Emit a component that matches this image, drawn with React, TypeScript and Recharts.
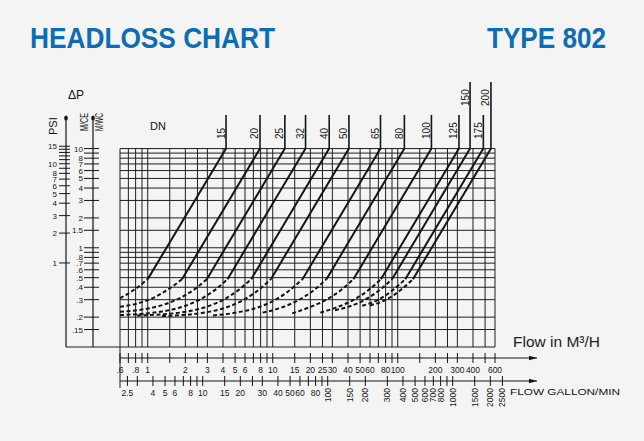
import React from "react";
import { LineChart, Line, XAxis, YAxis, ReferenceLine, Customized } from "recharts";

const INK = "#141414";
const GRID = "#1e1e1e";
const BLUE = "#0b6db7";
const FONT = "'Liberation Sans', Arial, Helvetica, sans-serif";

// ---------- axes ----------
const FLOW_DOMAIN = [0.6, 1300.6]; // m3/h (grid ends at 600, axis arrow beyond)
const GPM_PER_M3H = 2.18 / 0.6; // spacing of the printed gallon/min scale
const HEAD_DOMAIN = [0.1, 20.8]; // M/CE
const PSI_PER_M = 1.4223;
const PSI_DOMAIN = [HEAD_DOMAIN[0] * PSI_PER_M, HEAD_DOMAIN[1] * PSI_PER_M];

const flowTicks = [0.6, 0.7, 0.8, 0.9, 1, 1.5, 2, 2.5, 3, 4, 5, 6, 7, 8, 9, 10, 15, 20, 25, 30, 40, 50, 60, 70, 80, 90, 100, 150, 200, 250, 300, 400, 500, 600];
const flowLabelValues = [0.6, 0.8, 1, 2, 3, 4, 5, 6, 8, 10, 15, 20, 25, 30, 40, 50, 60, 80, 100, 200, 300, 400, 600];
const flowLabelTexts = [".6", ".8", "1", "2", "3", "4", "5", "6", "8", "10", "15", "20", "25", "30", "40", "50", "60", "80", "100", "200", "300", "400", "600"];

const gpmTicks = [2.5, 3, 4, 5, 6, 7, 8, 9, 10, 15, 20, 25, 30, 40, 50, 60, 70, 80, 90, 100, 150, 200, 300, 400, 500, 600, 700, 800, 900, 1000, 1500, 2000, 2500];
const gpmFlatLabels = [2.5, 4, 5, 6, 8, 10, 15, 20, 30, 40, 50, 60, 80];
const gpmUpLabels = [100, 150, 200, 300, 400, 500, 600, 700, 800, 1000, 1500, 2000, 2500];

const headTicks = [10, 9, 8, 7, 6, 5, 4, 3, 2, 1.5, 1, 0.9, 0.8, 0.7, 0.6, 0.5, 0.4, 0.3, 0.2, 0.15];
const headLabelValues = [10, 8, 7, 6, 5, 4, 3, 2, 1.5, 1, 0.8, 0.7, 0.6, 0.5, 0.4, 0.3, 0.2, 0.15];
const headLabelTexts = ["10", "8", "7", "6", "5", "4", "3", "2", "1.5", "1", ".8", ".7", ".6", ".5", ".4", ".3", ".2", ".15"];

const psiTicks = [15, 14, 13, 12, 11, 10, 9, 8, 7, 6, 5, 4, 3, 2, 1];
const psiLabelValues = [15, 10, 8, 7, 6, 5, 4, 3, 2, 1];

const gridFlow = flowTicks;
const gridHead = [10, 9, 8, 7, 6, 5, 4, 3, 2, 1.5, 1, 0.9, 0.8, 0.7, 0.6, 0.5, 0.4, 0.3, 0.2, 0.15, 0.1];

// ---------- DN curves: [flow m3/h, head M/CE] ----------
const dnNames = ["15", "20", "25", "32", "40", "50", "65", "80", "100", "125", "150", "175", "200"];
const dnTallStem = ["150", "200"];

const dn15Solid = [[1.0, 0.483], [4.23, 10]];
const dn15Dash = [[0.6, 0.31], [0.8, 0.386], [1.0, 0.483]];
const dn20Solid = [[1.88, 0.483], [7.91, 10]];
const dn20Dash = [[0.6, 0.254], [0.85, 0.277], [1.13, 0.317], [1.5, 0.39], [1.88, 0.483]];
const dn25Solid = [[2.97, 0.483], [12.5, 10]];
const dn25Dash = [[0.6, 0.226], [0.89, 0.238], [1.34, 0.267], [1.78, 0.308], [2.38, 0.383], [2.97, 0.483]];
const dn32Solid = [[4.35, 0.483], [18.3, 10]];
const dn32Dash = [[0.6, 0.21], [0.87, 0.215], [1.3, 0.228], [1.96, 0.258], [2.61, 0.301], [3.48, 0.379], [4.35, 0.483]];
const dn40Solid = [[6.73, 0.483], [28.3, 10]];
const dn40Dash = [[0.82, 0.208], [1.35, 0.214], [2.02, 0.227], [3.03, 0.257], [4.04, 0.3], [5.38, 0.379], [6.73, 0.483]];
const dn50Solid = [[9.67, 0.483], [40.7, 10]];
const dn50Dash = [[1.3, 0.205], [1.93, 0.21], [2.9, 0.223], [4.35, 0.253], [5.8, 0.297], [7.74, 0.377], [9.67, 0.483]];
const dn65Solid = [[17.3, 0.483], [72.8, 10]];
const dn65Dash = [[3.33, 0.208], [5.2, 0.223], [7.8, 0.253], [10.4, 0.297], [13.8, 0.377], [17.3, 0.483]];
const dn80Solid = [[26.9, 0.483], [113, 10]];
const dn80Dash = [[8.3, 0.222], [12.1, 0.253], [16.1, 0.297], [21.5, 0.377], [26.9, 0.483]];
const dn100Solid = [[44.2, 0.483], [186, 10]];
const dn100Dash = [[14.3, 0.218], [19.9, 0.253], [26.5, 0.297], [35.4, 0.377], [44.2, 0.483]];
const dn125Solid = [[73.4, 0.483], [309, 10]];
const dn125Dash = [[24, 0.222], [33, 0.253], [44, 0.297], [58.7, 0.377], [73.4, 0.483]];
const dn150Solid = [[90.1, 0.483], [379, 10]];
const dn150Dash = [[31.5, 0.235], [40.5, 0.255], [54, 0.297], [72, 0.377], [90.1, 0.483]];
const dn175Solid = [[115, 0.483], [484, 10]];
const dn175Dash = [[52, 0.26], [69, 0.297], [92, 0.377], [115, 0.483]];
const dn200Solid = [[132.4, 0.483], [557, 10]];
const dn200Dash = [[60, 0.262], [79.4, 0.297], [106, 0.377], [132.4, 0.483]];

const dnSolids = [dn15Solid, dn20Solid, dn25Solid, dn32Solid, dn40Solid, dn50Solid, dn65Solid, dn80Solid, dn100Solid, dn125Solid, dn150Solid, dn175Solid, dn200Solid];
const dnDashes = [dn15Dash, dn20Dash, dn25Dash, dn32Dash, dn40Dash, dn50Dash, dn65Dash, dn80Dash, dn100Dash, dn125Dash, dn150Dash, dn175Dash, dn200Dash];

const STEM_TOP = 21.8; // head value at the top of the short label stems
const STEM_TOP_TALL = 46.9;
const PSI_AXIS_FLOW = 0.2219; // flow value at the PSI axis line (left extension of bottom line)
const EDGE_LOW = 0.0386; // head value where the left edge reaches the gallon axis

const toPts = (arr: number[][]) => arr.map(([q, h]) => ({ q, h }));
const gpmTickPositions = [...gpmTicks.map((g) => g / GPM_PER_M3H), FLOW_DOMAIN[1]];

const txt = { fontFamily: FONT, fill: INK } as const;

const Arrow = ({ x, y }: any) => (
  <polygon points={`${x - 8},${y - 2.2} ${x},${y} ${x - 8},${y + 2.2}`} fill={INK} />
);

const FlowTick = (p: any) => {
  const { x, y, payload } = p;
  const v = payload.value;
  if (v > 1000) return <Arrow x={x} y={y} />;
  const i = flowLabelValues.indexOf(v);
  return (
    <g>
      <line x1={x} x2={x} y1={y - 5} y2={y + 5} stroke={INK} strokeWidth={1} />
      {i >= 0 && (
        <text x={x} y={y + 14.5} textAnchor="middle" fontSize={8.5} {...txt}>
          {flowLabelTexts[i]}
        </text>
      )}
    </g>
  );
};

const GpmTick = (p: any) => {
  const { x, y, payload } = p;
  const v = payload.value;
  if (v > 1000) return <Arrow x={x} y={y} />;
  const g = gpmTicks.find((t) => Math.abs(t / GPM_PER_M3H - v) < 1e-6 * t);
  const flat = g !== undefined && gpmFlatLabels.indexOf(g) >= 0;
  const up = g !== undefined && gpmUpLabels.indexOf(g) >= 0;
  return (
    <g>
      <line x1={x} x2={x} y1={y - 5} y2={y + 5} stroke={INK} strokeWidth={1} />
      {flat && (
        <text x={x} y={y + 15} textAnchor="middle" fontSize={8.5} {...txt}>
          {String(g)}
        </text>
      )}
      {up && (
        <text x={x + 3} y={y + 7} textAnchor="end" fontSize={8.5} transform={`rotate(-90 ${x + 3} ${y + 7})`} {...txt}>
          {String(g)}
        </text>
      )}
    </g>
  );
};

const HeadTick = (p: any) => {
  const { x, y, payload } = p;
  const v = payload.value;
  if (v > 15) return <ellipse cx={x} cy={y + 1} rx={1.8} ry={2.6} fill={INK} />;
  const i = headLabelValues.indexOf(v);
  return (
    <g>
      <line x1={x - 9} x2={x + 6} y1={y} y2={y} stroke={INK} strokeWidth={1} />
      {i >= 0 && (
        <text x={x - 10} y={y + 3} textAnchor="end" fontSize={8} {...txt}>
          {headLabelTexts[i]}
        </text>
      )}
    </g>
  );
};

const PsiTick = (p: any) => {
  const { x, y, payload } = p;
  const v = payload.value;
  if (v > 20) return <ellipse cx={x} cy={y + 1} rx={1.8} ry={2.6} fill={INK} />;
  const lab = psiLabelValues.indexOf(v) >= 0;
  return (
    <g>
      <line x1={x - 7} x2={x + 4} y1={y} y2={y} stroke={INK} strokeWidth={1} />
      {lab && (
        <text x={x - 9} y={y + 3} textAnchor="end" fontSize={8} {...txt}>
          {String(v)}
        </text>
      )}
    </g>
  );
};

const StemLabel = (props: any) => {
  const vb = props.viewBox || {};
  const x = vb.x - 1.5;
  const y = vb.y + 24;
  return (
    <text x={x} y={y} fontSize={10} transform={`rotate(-90 ${x} ${y})`} {...txt}>
      {props.text}
    </text>
  );
};

const Annotations = () => (
  <g>
    <text x={30} y={48} fontSize={30} fontWeight={700} fill={BLUE} fontFamily={FONT} textLength={245} lengthAdjust="spacingAndGlyphs">
      HEADLOSS CHART
    </text>
    <text x={487} y={48} fontSize={30} fontWeight={700} fill={BLUE} fontFamily={FONT} textLength={119} lengthAdjust="spacingAndGlyphs">
      TYPE 802
    </text>
    <text x={68} y={98.5} fontSize={12} {...txt}>ΔP</text>
    <text x={56.7} y={135} fontSize={11} transform="rotate(-90 56.7 135)" {...txt}>PSI</text>
    <text x={88} y={131} fontSize={10.5} textLength={18} lengthAdjust="spacingAndGlyphs" transform="rotate(-90 88 131)" {...txt}>M/CE</text>
    <text x={103} y={131} fontSize={10.5} textLength={18} lengthAdjust="spacingAndGlyphs" transform="rotate(-90 103 131)" {...txt}>M/WC</text>
    <text x={150} y={130} fontSize={11} {...txt}>DN</text>
    <text x={513} y={347} fontSize={15.5} fontFamily={FONT} fill="#222">Flow in M³/H</text>
    <text x={510} y={395} fontSize={9.5} textLength={110} lengthAdjust="spacingAndGlyphs" {...txt}>FLOW GALLON/MIN</text>
  </g>
);

export default function App() {
  const seg = (key: string, x1: number, y1: number, x2: number, y2: number, extra: any = {}) => (
    <ReferenceLine
      key={key}
      xAxisId="b_q"
      yAxisId="b_h"
      segment={[{ x: x1, y: y1 }, { x: x2, y: y2 }]}
      ifOverflow="visible"
      stroke={GRID}
      strokeWidth={1}
      {...extra}
    />
  );

  return (
    <div style={{ position: "absolute", left: 0, top: 0, width: 644, height: 441, background: "#f4f4f4", overflow: "hidden" }}>
      <LineChart width={644} height={441} margin={{ top: 117, right: 107, bottom: 20, left: 26 }}>
        <XAxis xAxisId="a_sp" type="number" domain={[0, 1]} height={11} tick={false} axisLine={false} tickLine={false} />
        <XAxis
          xAxisId="b_q"
          dataKey="q"
          type="number"
          scale="log"
          domain={FLOW_DOMAIN}
          allowDataOverflow
          ticks={[...flowTicks, FLOW_DOMAIN[1]]}
          interval={0}
          height={23}
          tickSize={0}
          tickMargin={0}
          tickLine={false}
          axisLine={{ stroke: INK, strokeWidth: 1 }}
          tick={<FlowTick />}
        />
        <XAxis
          xAxisId="c_g"
          dataKey="q"
          type="number"
          scale="log"
          domain={FLOW_DOMAIN}
          allowDataOverflow
          ticks={gpmTickPositions}
          interval={0}
          height={40}
          tickSize={0}
          tickMargin={0}
          tickLine={false}
          axisLine={{ stroke: INK, strokeWidth: 1 }}
          tick={<GpmTick />}
        />
        <YAxis yAxisId="a_sp" type="number" domain={[0, 1]} width={27} tick={false} axisLine={false} tickLine={false} />
        <YAxis
          yAxisId="b_h"
          type="number"
          scale="log"
          domain={HEAD_DOMAIN}
          allowDataOverflow
          ticks={[HEAD_DOMAIN[1], ...headTicks]}
          interval={0}
          width={27}
          tickSize={0}
          tickMargin={0}
          tickLine={false}
          axisLine={{ stroke: INK, strokeWidth: 1.2 }}
          tick={<HeadTick />}
        />
        <YAxis
          yAxisId="c_psi"
          type="number"
          scale="log"
          domain={PSI_DOMAIN}
          allowDataOverflow
          ticks={[PSI_DOMAIN[1], ...psiTicks]}
          interval={0}
          width={40}
          tickSize={0}
          tickMargin={0}
          tickLine={false}
          axisLine={{ stroke: INK, strokeWidth: 1.2 }}
          tick={<PsiTick />}
        />

        {gridFlow.map((q) => seg(`v${q}`, q, q === 0.6 ? EDGE_LOW : 0.1, q, 10))}
        {gridHead.map((h) => seg(`h${h}`, h === 0.1 ? PSI_AXIS_FLOW : 0.6, h, 600, h))}

        {dnNames.map((name, i) => {
          const top = dnSolids[i][dnSolids[i].length - 1][0];
          const tall = dnTallStem.indexOf(name) >= 0;
          return seg(`s${name}`, top, 10, top, tall ? STEM_TOP_TALL : STEM_TOP, {
            stroke: INK,
            strokeWidth: 1.6,
            label: <StemLabel text={name} />,
          });
        })}

        {dnNames.map((name, i) => (
          <Line
            key={`solid${name}`}
            xAxisId="b_q"
            yAxisId="b_h"
            data={toPts(dnSolids[i])}
            dataKey="h"
            type="linear"
            stroke={INK}
            strokeWidth={2}
            dot={false}
            activeDot={false}
            isAnimationActive={false}
          />
        ))}
        {dnNames.map((name, i) => (
          <Line
            key={`dash${name}`}
            xAxisId="b_q"
            yAxisId="b_h"
            data={toPts(dnDashes[i])}
            dataKey="h"
            type="monotone"
            stroke={INK}
            strokeWidth={2}
            strokeDasharray="4 2.5"
            dot={false}
            activeDot={false}
            isAnimationActive={false}
          />
        ))}

        <Customized component={<Annotations />} />
      </LineChart>
    </div>
  );
}
